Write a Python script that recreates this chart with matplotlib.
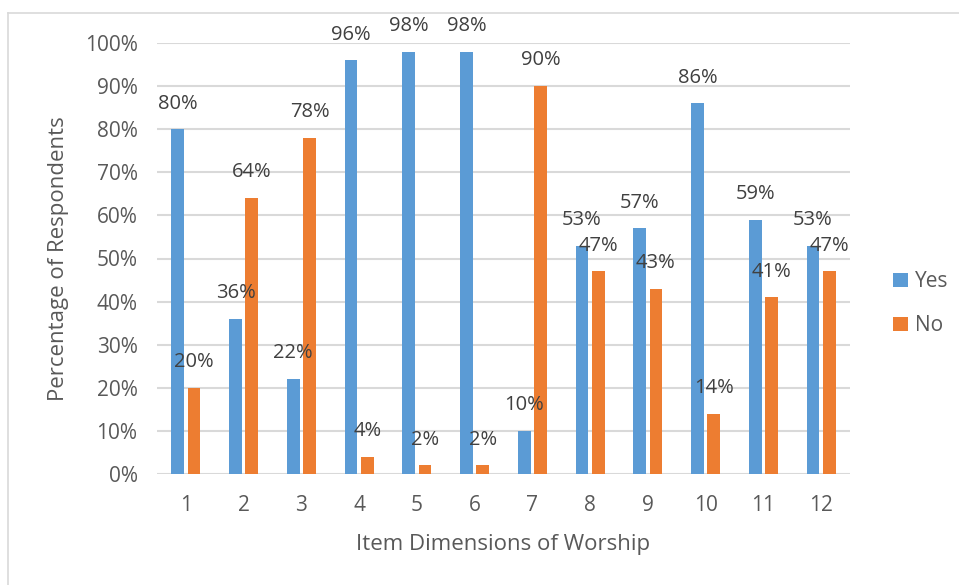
import numpy as np
import matplotlib
matplotlib.use("Agg")
import matplotlib.pyplot as plt
from matplotlib.lines import Line2D

plt.rcParams['font.family'] = ['Open Sans', 'DejaVu Sans']

items = [1, 2, 3, 4, 5, 6, 7, 8, 9, 10, 11, 12]
yes_pct = [80, 36, 22, 96, 98, 98, 10, 53, 57, 86, 59, 53]
no_pct = [20, 64, 78, 4, 2, 2, 90, 47, 43, 14, 41, 47]

blue = '#5B9BD5'
orange = '#ED7D31'
text_c = '#595959'

fig = plt.figure(figsize=(9.59, 5.85), dpi=100)
ax = fig.add_axes([157 / 959, 111 / 585, 693 / 959, 431 / 585])

x = np.arange(len(items)) + 1
w = 0.22
off = 0.14
b1 = ax.bar(x - off, yes_pct, w, color=blue, label='Yes', zorder=3)
b2 = ax.bar(x + off, no_pct, w, color=orange, label='No', zorder=3)

# value labels above each bar
for bars, vals in ((b1, yes_pct), (b2, no_pct)):
    for rect, v in zip(bars, vals):
        ax.annotate(f'{v:.0f}%', (rect.get_x() + rect.get_width() / 2, v),
                    xytext=(0, 18.5), textcoords='offset points',
                    ha='center', va='center', fontsize=14.5, color='#404040',
                    zorder=4, annotation_clip=False)

ax.set_xlim(0.5, 12.5)
ax.set_ylim(0, 100)
ax.set_yticks(np.arange(0, 101, 10))
ax.set_yticklabels([f'{t}%' for t in range(0, 101, 10)])
ax.set_xticks(x)
ax.set_xticklabels([str(i) for i in items])
ax.tick_params(length=0, labelsize=15, colors=text_c)
ax.tick_params(axis='x', pad=15)
ax.tick_params(axis='y', pad=14)
ax.grid(axis='y', color='#D9D9D9', linewidth=1.5, zorder=0)
for s in ax.spines.values():
    s.set_visible(False)

ax.set_ylabel('Percentage of Respondents', fontsize=16, color=text_c, labelpad=11)
ax.set_xlabel('Item Dimensions of Worship', fontsize=16, color=text_c, labelpad=13)

ax.legend(loc='center left', bbox_to_anchor=(1.035, 0.395), frameon=False,
          fontsize=15, labelcolor=text_c, handlelength=0.7, handleheight=0.7,
          handletextpad=0.35, labelspacing=1.1)

# chart area border
fig.add_artist(Line2D([8 / 959, 8 / 959], [0, 1 - 13 / 585], transform=fig.transFigure,
                      color='#D9D9D9', linewidth=1.2))
fig.add_artist(Line2D([8 / 959, 1], [1 - 13 / 585, 1 - 13 / 585], transform=fig.transFigure,
                      color='#D9D9D9', linewidth=1.2))

fig.savefig('out.png', dpi=100)
